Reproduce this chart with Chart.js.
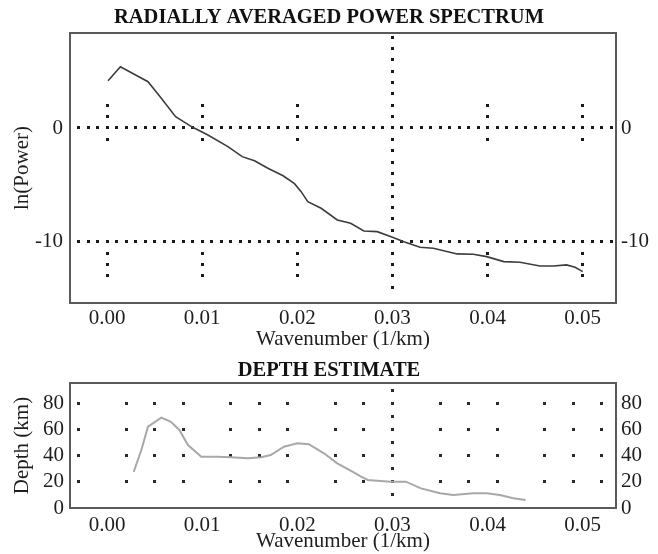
<!DOCTYPE html>
<html>
<head>
<meta charset="utf-8">
<script src="https://cdn.jsdelivr.net/npm/chart.js@4/dist/chart.umd.min.js"></script>
<style>
  html, body { margin: 0; padding: 0; background: #fff; }
  #wrap { position: relative; width: 658px; height: 554px; }
  canvas { position: absolute; left: 0; }
  #spectrumChart { top: 0; }
  #depthChart { top: 352px; }
</style>
</head>
<body>
<div id="wrap">
  <canvas id="spectrumChart" width="658" height="352"></canvas>
  <canvas id="depthChart" width="658" height="202"></canvas>
</div>
<script>
// Radially averaged power spectrum (wavenumber in 1/km, ln power)
const specK = [0.0001, 0.0014, 0.0043, 0.0057, 0.0072, 0.0090, 0.0106, 0.0127, 0.0142, 0.0155,
               0.0169, 0.0185, 0.0197, 0.0204, 0.0211, 0.0225, 0.0242, 0.0256, 0.0270, 0.0284,
               0.0300, 0.0312, 0.0329, 0.0343, 0.0368, 0.0385, 0.0399, 0.0417, 0.0434, 0.0455,
               0.0469, 0.0483, 0.0492, 0.0500];
const specPower = [4.16, 5.39, 4.07, 2.61, 0.99, 0.06, -0.62, -1.64, -2.52, -2.88,
                   -3.54, -4.2, -4.9, -5.6, -6.48, -7.06, -8.09, -8.38, -9.06, -9.12,
                   -9.61, -10.0, -10.49, -10.58, -11.08, -11.11, -11.32, -11.76, -11.81, -12.14,
                   -12.14, -12.05, -12.25, -12.64];

// Depth estimate (km)
const depthK = [0.0028, 0.0036, 0.0043, 0.0057, 0.0067, 0.0076, 0.0085, 0.0099, 0.0116, 0.0130,
                0.0148, 0.0162, 0.0172, 0.0186, 0.0200, 0.0212, 0.0228, 0.0242, 0.0256, 0.0267,
                0.0274, 0.0298, 0.0314, 0.0330, 0.0350, 0.0364, 0.0385, 0.0399, 0.0413, 0.0427,
                0.0440];
const depthKm = [27.7, 44.3, 62.1, 69.0, 65.9, 59.6, 48.1, 39.2, 39.2, 38.7,
                 38.0, 38.7, 40.5, 46.8, 49.4, 48.7, 41.8, 34.1, 28.5, 23.9,
                 21.4, 20.1, 20.1, 15.0, 11.2, 9.9, 11.2, 11.2, 9.9, 7.4,
                 6.1];

// tick labels
const kTicks = [0, 0.01, 0.02, 0.03, 0.04, 0.05];
const powerTicks = [0, -10];
const depthTicks = [0, 20, 40, 60, 80];

// dotted guide marks (data units)
const specRules = [0, -10];                 // full horizontal dotted rules
const specMainCol = 0.03;                   // full vertical dotted rule
const specCols = [0, 0.01, 0.02, 0.04, 0.05];
const specColRows = [2, 1, -1, -11, -12, -13];
const depthCols = [-0.003, 0.002, 0.005, 0.008, 0.013, 0.016, 0.019, 0.024, 0.027,
                   0.035, 0.038, 0.041, 0.046, 0.049, 0.052];
const depthRows = [20, 40, 60, 80];
const depthMainCol = 0.03;

const serif = 'Liberation Serif, Times New Roman, serif';
const textColor = '#1e1e1e';

function specDots() {
    const dots = [];
    for (let i = -3; i <= 53; i++) {
        specRules.forEach(r => dots.push([i / 1000, r]));
    }
    for (let j = -14; j <= 8; j++) dots.push([specMainCol, j]);
    specCols.forEach(c => specColRows.forEach(r => dots.push([c, r])));
    return dots;
}

function depthDots() {
    const dots = [];
    depthCols.forEach(c => depthRows.forEach(r => dots.push([c, r])));
    for (let j = 10; j <= 90; j += 10) dots.push([depthMainCol, j]);
    return dots;
}

// draws dotted guides and the frame round the plot
const dotGrid = {
    id: 'dotGrid',
    beforeDatasetsDraw(chart, args, opts) {
        const {ctx, scales: {x, y}} = chart;
        ctx.save();
        ctx.fillStyle = opts.color;
        const s = opts.size;
        opts.dots.forEach(([vx, vy]) => {
            const px = x.getPixelForValue(vx);
            const py = y.getPixelForValue(vy);
            ctx.fillRect(Math.round(px - s / 2), Math.round(py - s / 2), s, s);
        });
        ctx.restore();
    },
    afterDraw(chart) {
        const {ctx, chartArea: a} = chart;
        ctx.save();
        ctx.strokeStyle = '#5a5a5a';
        ctx.lineWidth = 2;
        ctx.strokeRect(a.left, a.top, a.right - a.left, a.bottom - a.top);
        ctx.restore();
    }
};

function yAxis(position, ticks, min, max, width, pad, title) {
    return {
        type: 'linear',
        position: position,
        min: min,
        max: max,
        grid: { display: false, drawTicks: false },
        border: { display: false },
        afterBuildTicks: s => { s.ticks = ticks.map(v => ({ value: v })); },
        afterFit: s => { s.width = width; },
        ticks: {
            color: textColor,
            padding: pad,
            font: { family: serif, size: 21 },
            callback: v => String(v)
        },
        title: title ? {
            display: true,
            text: title,
            color: textColor,
            font: { family: serif, size: 21, lineHeight: 1.2 },
            padding: { top: 10, bottom: 0 }
        } : { display: false }
    };
}

function xAxis(height, pad, titlePad) {
    return {
        type: 'linear',
        min: -0.0039,
        max: 0.0535,
        grid: { display: false, drawTicks: false },
        border: { display: false },
        afterBuildTicks: s => { s.ticks = kTicks.map(v => ({ value: v })); },
        afterFit: s => { s.height = height; },
        ticks: {
            color: textColor,
            padding: pad,
            maxRotation: 0,
            autoSkip: false,
            font: { family: serif, size: 21 },
            callback: v => v.toFixed(2)
        },
        title: {
            display: true,
            text: 'Wavenumber (1/km)',
            color: textColor,
            font: { family: serif, size: 21, lineHeight: 1.2 },
            padding: { top: 0, bottom: titlePad }
        }
    };
}

document.addEventListener("DOMContentLoaded", function () {
    // Power spectrum
    const spec = document.getElementById('spectrumChart');
    new Chart(spec.getContext('2d'), {
        type: 'line',
        data: {
            datasets: [{
                data: specK.map((k, i) => ({ x: k, y: specPower[i] })),
                borderColor: '#3c3c3c',
                borderWidth: 1.6,
                pointRadius: 0,
                tension: 0,
                yAxisID: 'y'
            }]
        },
        options: {
            responsive: false,
            animation: false,
            layout: { padding: 0 },
            plugins: {
                legend: { display: false },
                tooltip: { enabled: false },
                title: {
                    display: true,
                    text: 'RADIALLY AVERAGED POWER SPECTRUM',
                    color: '#111',
                    font: { family: serif, size: 20.5, weight: 'bold', lineHeight: 1.2 },
                    padding: { top: 5, bottom: 3.4 }
                },
                dotGrid: { dots: specDots(), size: 3, color: '#1a1a1a' }
            },
            scales: {
                x: xAxis(49, 3, 0),
                y: yAxis('left', powerTicks, -15.4, 8.36, 70, 7, 'ln(Power)'),
                y2: yAxis('right', powerTicks, -15.4, 8.36, 42, 5, null)
            }
        },
        plugins: [dotGrid]
    });

    // Depth estimate
    const depth = document.getElementById('depthChart');
    new Chart(depth.getContext('2d'), {
        type: 'line',
        data: {
            datasets: [{
                data: depthK.map((k, i) => ({ x: k, y: depthKm[i] })),
                borderColor: '#a8a8a8',
                borderWidth: 2,
                pointRadius: 0,
                tension: 0,
                yAxisID: 'y'
            }]
        },
        options: {
            responsive: false,
            animation: false,
            layout: { padding: 0 },
            plugins: {
                legend: { display: false },
                tooltip: { enabled: false },
                title: {
                    display: true,
                    text: 'DEPTH ESTIMATE',
                    color: '#111',
                    font: { family: serif, size: 20.5, weight: 'bold', lineHeight: 1.2 },
                    padding: { top: 6, bottom: 0.4 }
                },
                dotGrid: { dots: depthDots(), size: 3, color: '#2a2a2a' }
            },
            scales: {
                x: xAxis(46, 5, 0),
                y: yAxis('left', depthTicks, 0, 95.5, 70, 6, 'Depth (km)'),
                y2: yAxis('right', depthTicks, 0, 95.5, 42, 5, null)
            }
        },
        plugins: [dotGrid]
    });
});
</script>
</body>
</html>
